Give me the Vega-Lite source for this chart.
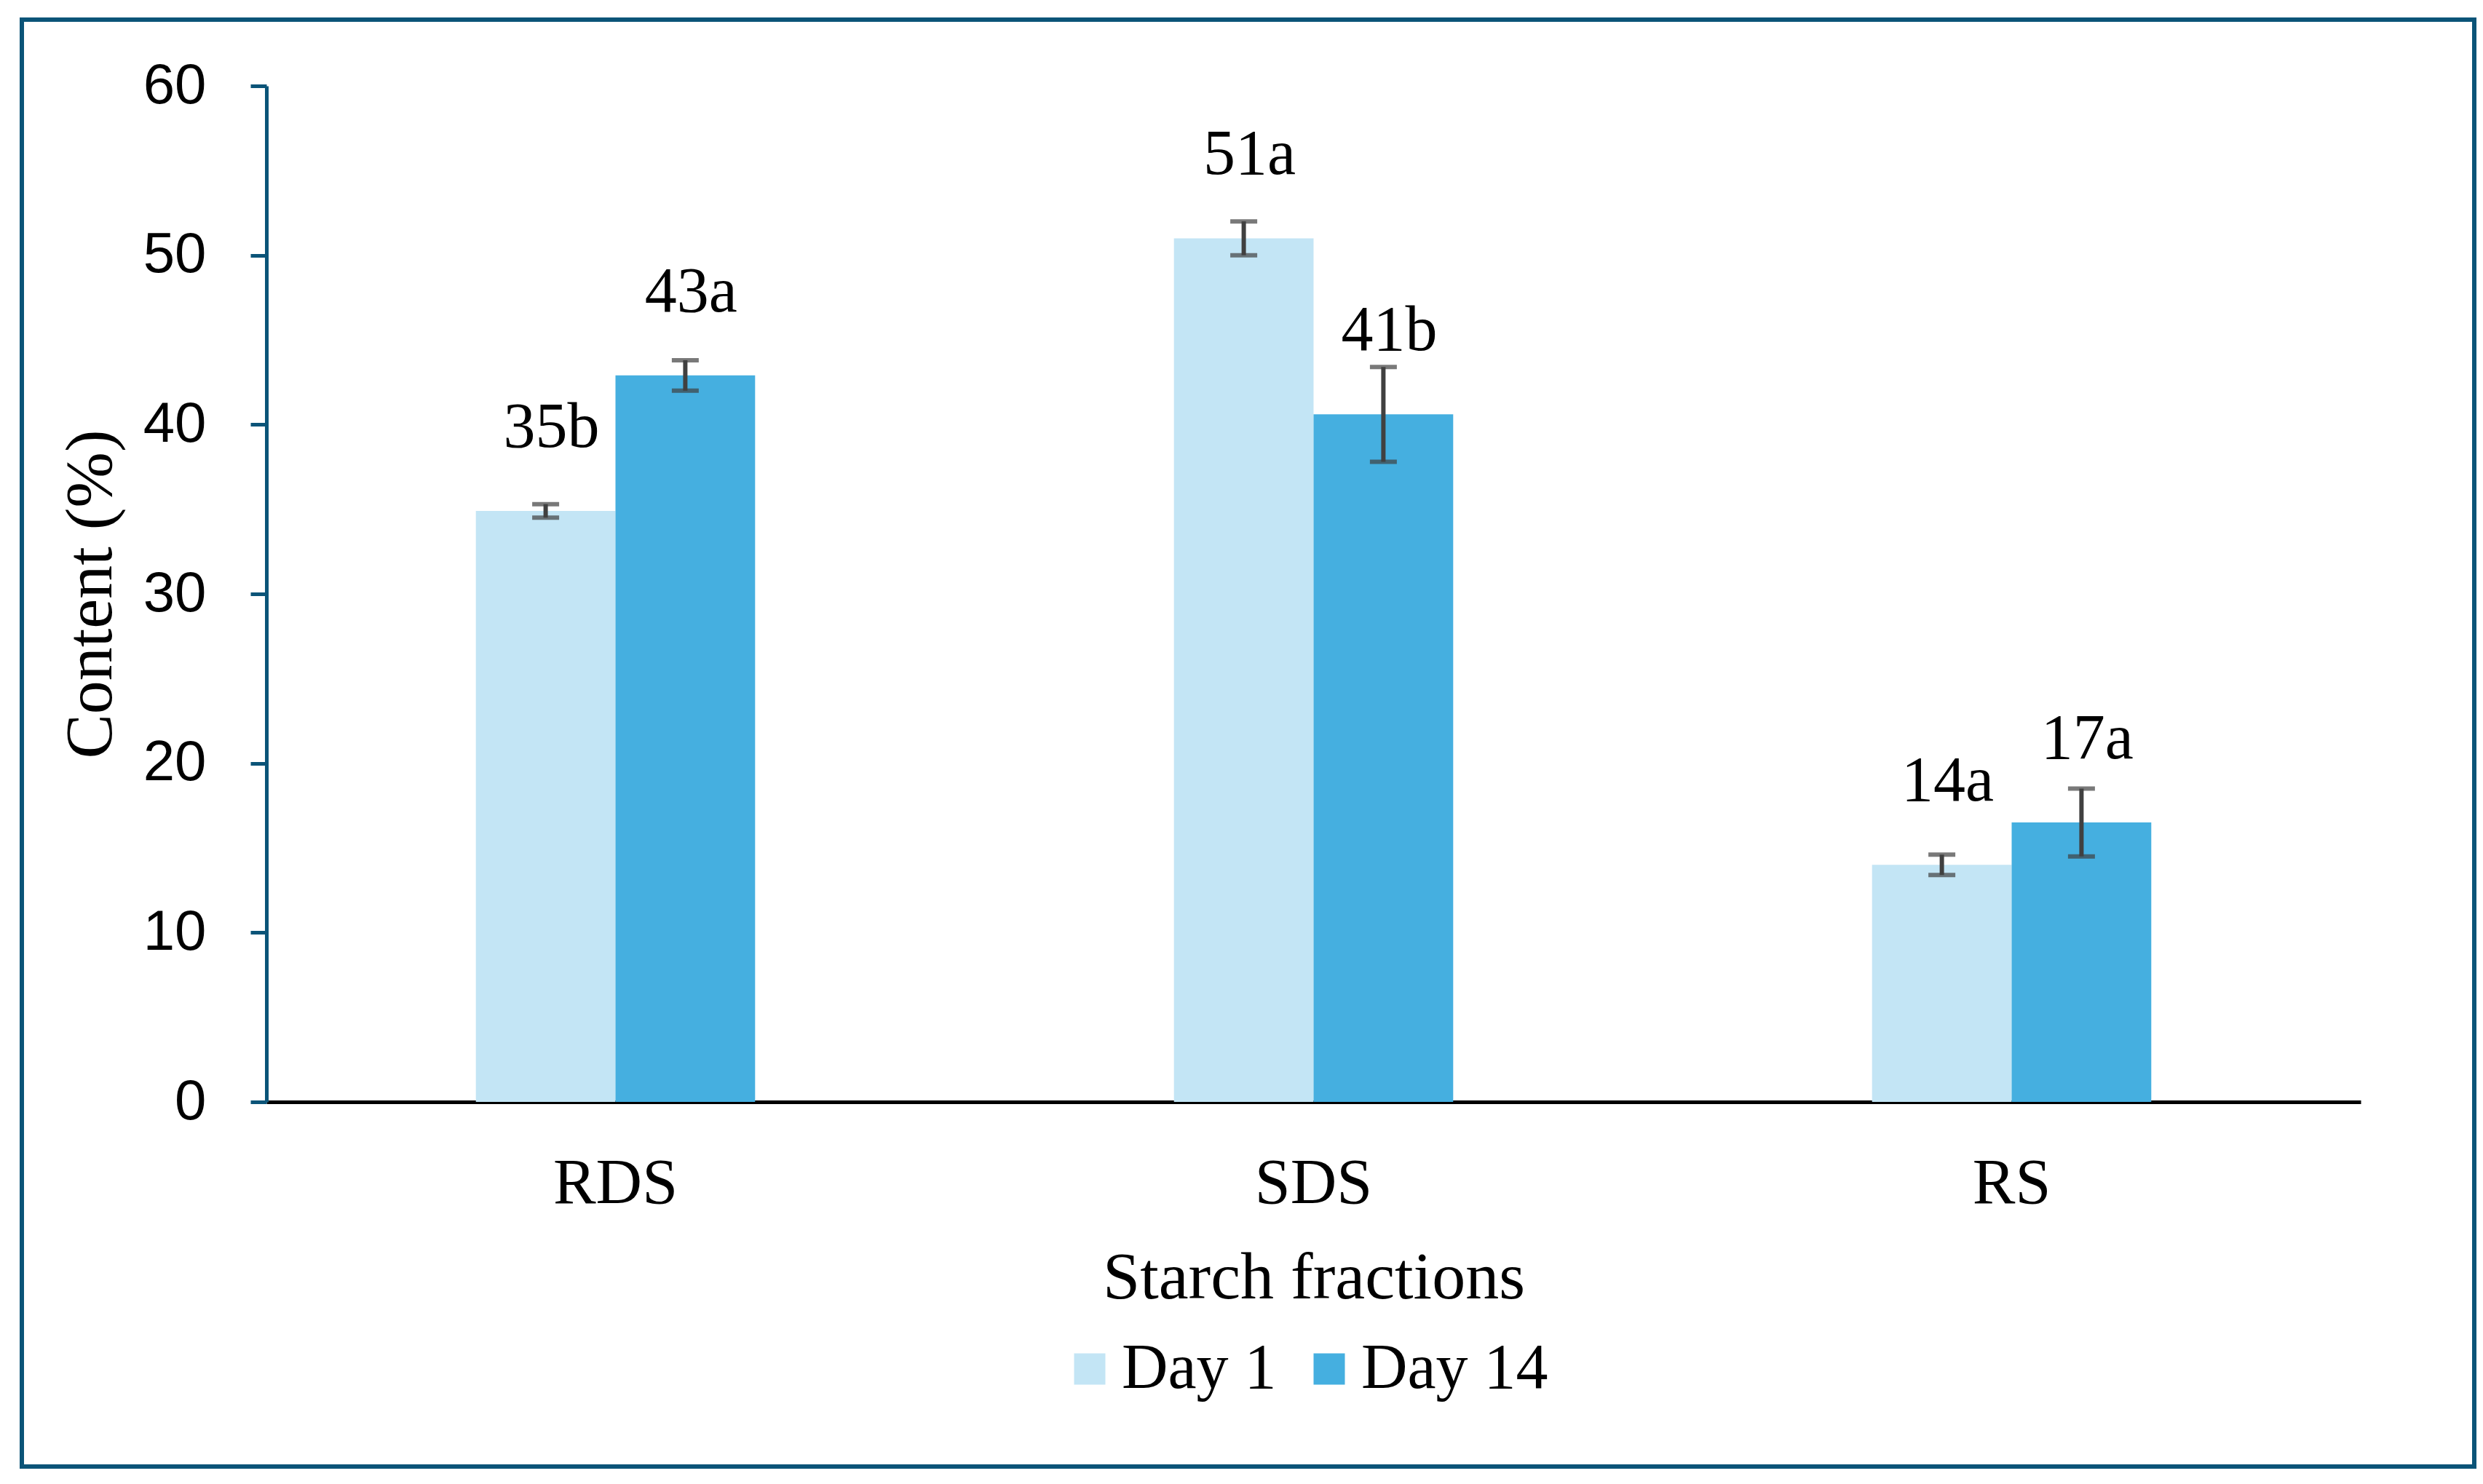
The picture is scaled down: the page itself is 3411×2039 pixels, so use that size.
{
  "$schema": "https://vega.github.io/schema/vega-lite/v6.json",
  "width": 3369,
  "height": 1988,
  "autosize": {"type": "none"},
  "padding": {"left": 30, "top": 27, "right": 12, "bottom": 24},
  "background": "white",
  "config": {
    "view": {"stroke": "#0B5478", "strokeWidth": 6},
    "font": "Liberation Serif"
  },
  "data": {
    "values": [
      {"Fraction": "RDS", "Day": "Day 1", "Content": 34.9, "SD": 0.4, "Label": "35b"},
      {"Fraction": "RDS", "Day": "Day 14", "Content": 42.9, "SD": 0.9, "Label": "43a"},
      {"Fraction": "SDS", "Day": "Day 1", "Content": 51.0, "SD": 1.0, "Label": "51a"},
      {"Fraction": "SDS", "Day": "Day 14", "Content": 40.6, "SD": 2.8, "Label": "41b"},
      {"Fraction": "RS", "Day": "Day 1", "Content": 14.0, "SD": 0.6, "Label": "14a"},
      {"Fraction": "RS", "Day": "Day 14", "Content": 16.5, "SD": 2.0, "Label": "17a"}
    ]
  },
  "encoding": {
    "x": {
      "field": "Fraction",
      "type": "nominal",
      "sort": ["RDS", "SDS", "RS"],
      "scale": {"range": [336, 3213], "paddingInner": 0.6, "paddingOuter": 0.3},
      "axis": {
        "orient": "bottom",
        "offset": -501,
        "domainColor": "#000000",
        "domainWidth": 5,
        "ticks": false,
        "tickSize": 0,
        "labelAngle": 0,
        "labelFont": "Liberation Serif",
        "labelFontSize": 88,
        "labelColor": "#000000",
        "labelPadding": 68,
        "title": "Starch fractions",
        "titleFont": "Liberation Serif",
        "titleFontSize": 92,
        "titleFontWeight": "normal",
        "titleColor": "#000000",
        "titlePadding": 40,
        "grid": false
      }
    },
    "xOffset": {
      "field": "Day",
      "type": "nominal",
      "sort": ["Day 1", "Day 14"],
      "scale": {"paddingInner": 0, "paddingOuter": 0}
    }
  },
  "layer": [
    {
      "mark": {"type": "bar"},
      "encoding": {
        "y": {
          "field": "Content",
          "type": "quantitative",
          "title": "Content (%)",
          "scale": {"domain": [0, 60], "range": [1487, 91], "nice": false, "zero": true},
          "axis": {
            "orient": "left",
            "offset": -336,
            "values": [0, 10, 20, 30, 40, 50, 60],
            "domainColor": "#0B5478",
            "domainWidth": 5,
            "tickColor": "#0B5478",
            "tickWidth": 5,
            "tickSize": 22,
            "labelFont": "Liberation Sans",
            "labelFontSize": 78,
            "labelColor": "#000000",
            "labelPadding": 61,
            "title": "Content (%)",
            "titleFont": "Liberation Serif",
            "titleFontSize": 92,
            "titleFontWeight": "normal",
            "titleColor": "#000000",
            "titlePadding": 25,
            "grid": false
          }
        },
        "color": {
          "field": "Day",
          "type": "nominal",
          "sort": ["Day 1", "Day 14"],
          "scale": {"domain": ["Day 1", "Day 14"], "range": ["#C3E5F5", "#45AFE0"]},
          "legend": {
            "orient": "none",
            "legendX": 1423,
            "legendY": 1810,
            "direction": "horizontal",
            "title": null,
            "symbolType": "square",
            "symbolSize": 1850,
            "symbolStrokeWidth": 0,
            "labelFont": "Liberation Serif",
            "labelFontSize": 88,
            "labelColor": "#000000",
            "labelLimit": 1000,
            "labelOffset": 0,
            "columnPadding": 28
          }
        }
      }
    },
    {
      "mark": {
        "type": "errorbar",
        "ticks": {"size": 37, "thickness": 6, "color": "#404040"},
        "rule": {"strokeWidth": 6, "color": "#404040"}
      },
      "encoding": {
        "y": {"field": "Content", "type": "quantitative", "title": "Content (%)"},
        "yError": {"field": "SD"}
      }
    },
    {
      "mark": {
        "type": "text",
        "font": "Liberation Serif",
        "fontSize": 88,
        "color": "#000000",
        "baseline": "alphabetic",
        "align": "center",
        "dy": -88,
        "dx": 8
      },
      "encoding": {
        "y": {"field": "Content", "type": "quantitative", "title": "Content (%)"},
        "text": {"field": "Label"}
      }
    }
  ]
}
